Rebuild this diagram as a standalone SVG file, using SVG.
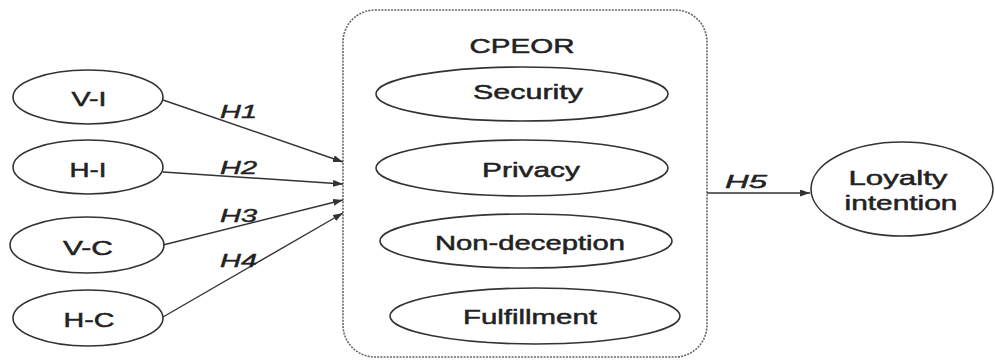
<svg xmlns="http://www.w3.org/2000/svg" width="995" height="360" viewBox="0 0 995 360">
<style>
.n{fill:#fff;stroke:#333;stroke-width:1.6}
.t{font-family:"Liberation Sans",Arial,sans-serif;font-size:21px;fill:#222;stroke:#222;stroke-width:0.5;text-anchor:middle}
.h{font-family:"Liberation Sans",Arial,sans-serif;font-size:18px;font-style:italic;fill:#222;stroke:#222;stroke-width:0.4}
.c{stroke:#333;stroke-width:1.4;fill:none;marker-end:url(#ah)}
</style>
<defs>
<marker id="ah" markerUnits="userSpaceOnUse" markerWidth="11" markerHeight="8" refX="10" refY="3.5" orient="auto">
<path d="M0,0 L10,3.5 L0,7 z" fill="#333"/>
</marker>
</defs>
<rect x="0" y="0" width="995" height="360" fill="#fff"/>
<g id="cpeor">
<rect x="343" y="10" width="364" height="347" rx="32" fill="none" stroke="#666" stroke-width="1.6" stroke-dasharray="2,1.2"/>
<text class="t" x="522" y="53" textLength="105" lengthAdjust="spacingAndGlyphs">CPEOR</text>
</g>
<g id="security"><ellipse class="n" cx="522" cy="94" rx="146" ry="27"/><text class="t" x="528" y="99" textLength="110" lengthAdjust="spacingAndGlyphs">Security</text></g>
<g id="privacy"><ellipse class="n" cx="522" cy="168" rx="146" ry="28"/><text class="t" x="531" y="177" textLength="98" lengthAdjust="spacingAndGlyphs">Privacy</text></g>
<g id="nondeception"><ellipse class="n" cx="526" cy="241" rx="146" ry="27"/><text class="t" x="530" y="250" textLength="190" lengthAdjust="spacingAndGlyphs">Non-deception</text></g>
<g id="fulfillment"><ellipse class="n" cx="535" cy="316" rx="145" ry="28"/><text class="t" x="530" y="324" textLength="134" lengthAdjust="spacingAndGlyphs">Fulfillment</text></g>
<g id="vi"><ellipse class="n" cx="88" cy="97" rx="75" ry="27"/><text class="t" x="89" y="106" textLength="35" lengthAdjust="spacingAndGlyphs">V-I</text></g>
<g id="hi"><ellipse class="n" cx="88" cy="167" rx="75" ry="27"/><text class="t" x="88" y="177" textLength="37" lengthAdjust="spacingAndGlyphs">H-I</text></g>
<g id="vc"><ellipse class="n" cx="87" cy="245" rx="77" ry="28"/><text class="t" x="88" y="255" textLength="50" lengthAdjust="spacingAndGlyphs">V-C</text></g>
<g id="hc"><ellipse class="n" cx="88" cy="318" rx="75" ry="28"/><text class="t" x="89" y="327" textLength="51" lengthAdjust="spacingAndGlyphs">H-C</text></g>
<g id="loyalty"><ellipse class="n" cx="902" cy="189" rx="91" ry="47"/><text class="t" x="898" y="185" textLength="99" lengthAdjust="spacingAndGlyphs">Loyalty</text><text class="t" x="901" y="210" textLength="113" lengthAdjust="spacingAndGlyphs">intention</text></g>
<g id="connectors">
<line class="c" x1="163" y1="100" x2="343" y2="162"/>
<line class="c" x1="163" y1="172" x2="343" y2="184"/>
<line class="c" x1="163" y1="245" x2="343" y2="200"/>
<line class="c" x1="163" y1="317" x2="343" y2="213"/>
<line class="c" x1="707" y1="193" x2="810" y2="193"/>
<text class="h" x="220" y="118" textLength="37" lengthAdjust="spacingAndGlyphs">H1</text>
<text class="h" x="220" y="174" textLength="37" lengthAdjust="spacingAndGlyphs">H2</text>
<text class="h" x="220" y="222" textLength="37" lengthAdjust="spacingAndGlyphs">H3</text>
<text class="h" x="220" y="267" textLength="37" lengthAdjust="spacingAndGlyphs">H4</text>
<text class="h" x="725" y="188" textLength="42" lengthAdjust="spacingAndGlyphs">H5</text>
</g>
</svg>
